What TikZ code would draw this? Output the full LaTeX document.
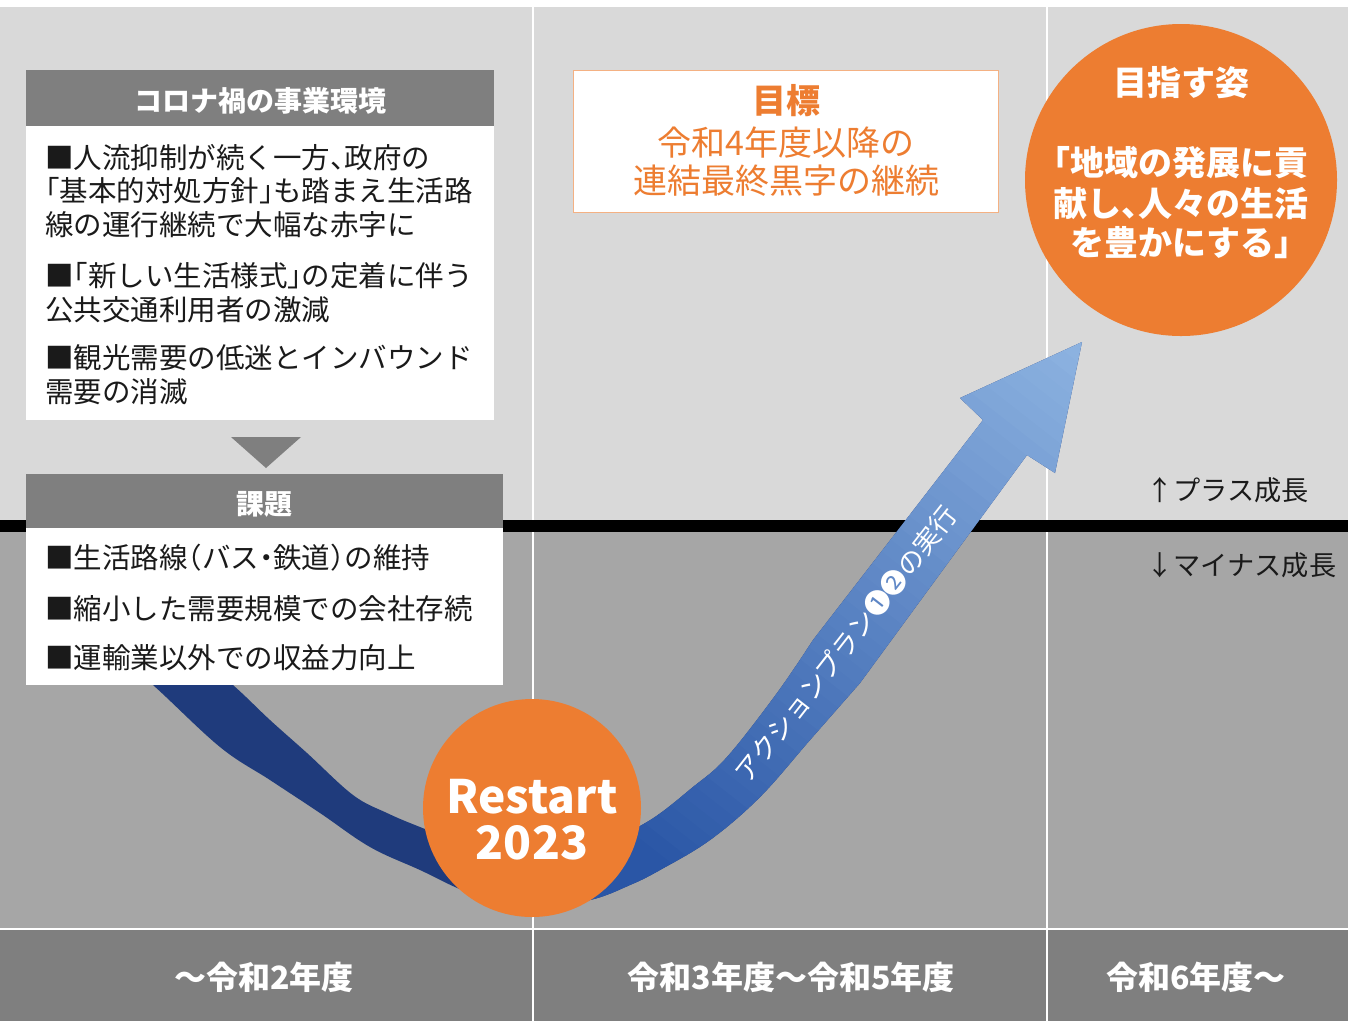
\documentclass[tikz,border=0pt]{standalone}
\usepackage{fontspec}
\setmainfont{Noto Sans CJK JP}[RawFeature=+halt]
\definecolor{bgup}{HTML}{D9D9D9}
\definecolor{bglow}{HTML}{A6A6A6}
\definecolor{bandbg}{HTML}{7F7F7F}
\definecolor{hdr}{HTML}{7F7F7F}
\definecolor{orng}{HTML}{ED7D31}
\definecolor{navy}{HTML}{1F3B7C}
\definecolor{bandlo}{HTML}{2A56A6}
\definecolor{bandhi}{HTML}{8FB5E2}
\definecolor{goalline}{HTML}{F4B183}
\definecolor{ink}{HTML}{1A1A1A}
\begin{document}
\begin{tikzpicture}[x=0.5pt,y=-0.5pt,
  bodytxt/.style={inner sep=0pt, anchor=west, text=ink, font=\fontsize{14.25}{17}\selectfont},
  hdrtxt/.style={inner sep=0pt, text=white, font=\fontsize{14}{17}\selectfont\bfseries},
  goaltxt/.style={inner sep=0pt, text=orng, font=\fontsize{17}{20}\selectfont},
  circtxt/.style={inner sep=0pt, text=white, font=\fontsize{17}{20}\selectfont\bfseries},
  rstxt/.style={inner sep=0pt, text=white, font=\fontsize{23}{26}\selectfont\bfseries},
  yeartxt/.style={inner sep=0pt, text=white, font=\fontsize{16}{19}\selectfont\bfseries},
  sidetxt/.style={inner sep=0pt, anchor=west, text=ink, font=\fontsize{13.6}{17}\selectfont},
  boxfill/.style={inner sep=0pt, anchor=north west, draw=none},
  orb/.style={circle, fill=orng, inner sep=0pt}]
\useasboundingbox (0,0) rectangle (1348,1025);
% backgrounds
\fill[white] (0,0) rectangle (1348,1025);
\fill[bgup] (0,7) rectangle (1348,526);
\fill[bglow] (0,526) rectangle (1348,928);
\fill[bandbg] (0,930) rectangle (1348,1021);
\draw[white, line width=1pt] (533,7) -- (533,1021);
\draw[white, line width=1pt] (1047,7) -- (1047,1021);
\fill[black] (0,520) rectangle (1348,532);
% V band with arrow
\begin{scope}
\clip plot[smooth, tension=0.6] coordinates {(100,640) (153,685) (220,747) (270,780) (320,813) (370,847) (420,870) (470,893) (530,908) (590,900) (630,885) (660,870) (710,840) (760,797) (810,740) (860,683)}
  -- (1027,455) -- (1055,473) -- (1082,342) -- (960,398) -- (983,420)
  -- plot[smooth, tension=0.6] coordinates {(813,640) (777,693) (727,757) (693,787) (647,822) (590,848) (530,858) (470,846) (420,827) (387,813) (353,795) (307,753) (270,720) (233,685) (180,640)}
  -- cycle;
\fill[navy] (0,0) rectangle (1348,1025);
\foreach \s in {0,15,...,810} {
  \pgfmathtruncatemacro\p{max(0,min(100,(\s-100)/6.84))}
  \fill[bandhi!\p!bandlo]
    ({530+\s*0.616-700*0.788},{905-\s*0.788-700*0.616}) --
    ({530+(\s+16)*0.616-700*0.788},{905-(\s+16)*0.788-700*0.616}) --
    ({530+(\s+16)*0.616+700*0.788},{905-(\s+16)*0.788+700*0.616}) --
    ({530+\s*0.616+700*0.788},{905-\s*0.788+700*0.616}) -- cycle;
}
\end{scope}
\node[inner sep=0pt, rotate=52, text=white, font=\fontsize{13.2}{15}\selectfont] (act) at (846,644) {アクションプラン❶❷の実行};
% box 1
\node[boxfill, fill=hdr, minimum width=234pt, minimum height=28pt] (h1) at (26,70) {};
\node[boxfill, fill=white, minimum width=234pt, minimum height=147pt] (b1) at (26,126) {};
\node[hdrtxt] (h1t) at (260,101) {コロナ禍の事業環境};
\node[bodytxt] (l1) at (45,158) {■人流抑制が続く一方、政府の};
\node[bodytxt] (l2) at (45,191) {「基本的対処方針」も踏まえ生活路};
\node[bodytxt] (l3) at (45,225) {線の運行継続で大幅な赤字に};
\node[bodytxt] (l4) at (45,276) {■「新しい生活様式」の定着に伴う};
\node[bodytxt] (l5) at (45,310) {公共交通利用者の激減};
\node[bodytxt] (l6) at (45,358) {■観光需要の低迷とインバウンド};
\node[bodytxt] (l7) at (45,392) {需要の消滅};
% triangle
\fill[hdr] (231,437) -- (301,437) -- (266,468) -- cycle;
% box 2
\node[boxfill, fill=hdr, minimum width=238.5pt, minimum height=27pt] (h2) at (26,474) {};
\node[boxfill, fill=white, minimum width=238.5pt, minimum height=78.5pt] (b2) at (26,528) {};
\node[hdrtxt] (h2t) at (264,504) {課題};
\node[bodytxt] (m1) at (45,558) {■生活路線（バス・鉄道）の維持};
\node[bodytxt] (m2) at (45,609) {■縮小した需要規模での会社存続};
\node[bodytxt] (m3) at (45,658) {■運輸業以外での収益力向上};
% goal box
\node[boxfill, fill=white, draw=goalline, line width=0.6pt, minimum width=212.5pt, minimum height=71pt] (goal) at (573,70) {};
\node[goaltxt, font=\fontsize{17}{20}\selectfont\bfseries] (g1) at (786,101) {目標};
\node[goaltxt] (g2) at (786,143) {令和4年度以降の};
\node[goaltxt] (g3) at (786,181) {連結最終黒字の継続};
% big circle
\node[orb, minimum size=156pt] (vision) at (1181,180) {};
\node[circtxt] (v1) at (1181,83) {目指す姿};
\node[circtxt] (v2) at (1181,163) {「地域の発展に貢};
\node[circtxt] (v3) at (1181,204) {献し、人々の生活};
\node[circtxt] (v4) at (1181,243) {を豊かにする」};
% restart circle
\node[orb, minimum size=109pt] (restart) at (532,808) {};
\node[rstxt] (r1) at (532,797) {Restart};
\node[rstxt] (r2) at (532,843) {2023};
% side labels
\node[sidetxt] (plus) at (1146,490) {↑プラス成長};
\node[sidetxt] (minus) at (1146,565) {↓マイナス成長};
% years
\node[yeartxt] (y1) at (264,977) {～令和2年度};
\node[yeartxt] (y2) at (791,977) {令和3年度～令和5年度};
\node[yeartxt] (y3) at (1196,977) {令和6年度～};
\end{tikzpicture}
\end{document}
